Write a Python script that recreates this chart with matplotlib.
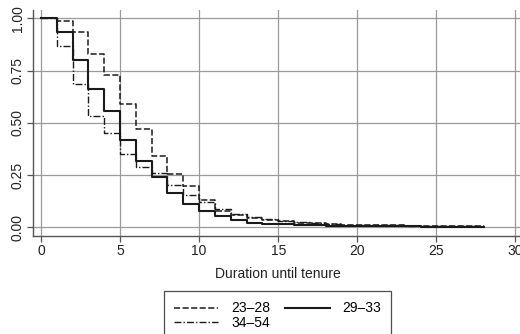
import matplotlib.pyplot as plt
import numpy as np

plt.rcParams['font.family'] = ['Liberation Sans', 'DejaVu Sans']

# Kaplan-Meier survival estimates by age group at hire (years 0..28)
years = np.arange(0, 29)
surv_23_28 = [1.000, 0.989, 0.933, 0.827, 0.728, 0.592, 0.469, 0.342, 0.255, 0.198,
              0.128, 0.078, 0.060, 0.046, 0.036, 0.028, 0.022, 0.018, 0.015, 0.012,
              0.010, 0.009, 0.008, 0.007, 0.006, 0.005, 0.004, 0.004, 0.004]
surv_29_33 = [1.000, 0.933, 0.803, 0.664, 0.557, 0.419, 0.317, 0.240, 0.163, 0.110,
              0.079, 0.055, 0.035, 0.022, 0.017, 0.013, 0.010, 0.008, 0.007, 0.006,
              0.005, 0.005, 0.004, 0.004, 0.003, 0.003, 0.003, 0.002, 0.002]
surv_34_54 = [1.000, 0.869, 0.685, 0.531, 0.451, 0.349, 0.288, 0.259, 0.203, 0.155,
              0.120, 0.086, 0.065, 0.048, 0.038, 0.030, 0.024, 0.019, 0.015, 0.012,
              0.010, 0.009, 0.008, 0.007, 0.006, 0.005, 0.004, 0.004, 0.004]

labels = ['23–28', '29–33', '34–54']
xticks = [0, 5, 10, 15, 20, 25, 30]
yticks = [0.0, 0.25, 0.50, 0.75, 1.00]

fig = plt.figure(figsize=(5.2, 3.34), dpi=100)
ax = fig.add_axes([0.0635, 0.293, 0.943, 0.677])

line_color = '#1a1a1a'
l1, = ax.step(years, surv_23_28, where='post', color=line_color, lw=1.1,
              linestyle=(0, (4, 1.6)), label=labels[0])
l2, = ax.step(years, surv_29_33, where='post', color=line_color, lw=1.5,
              linestyle='-', label=labels[1])
l3, = ax.step(years, surv_34_54, where='post', color=line_color, lw=1.0,
              linestyle=(0, (5, 1.5, 1, 1.5)), label=labels[2])

ax.set_xlim(-0.5, 30.5)
ax.set_ylim(-0.043, 1.04)
ax.set_xticks(xticks)
ax.set_yticks(yticks)
ax.set_yticklabels([f'{v:.2f}' for v in yticks], rotation=90, va='center')
ax.grid(True, color='#9a9a9a', lw=0.9)
ax.set_axisbelow(True)

for side in ['top', 'right']:
    ax.spines[side].set_visible(False)
for side in ['left', 'bottom']:
    ax.spines[side].set_color('#555555')
    ax.spines[side].set_linewidth(1.0)

ax.tick_params(axis='both', labelsize=10, colors='#555555', labelcolor='#222222',
               length=4, width=0.9)
ax.tick_params(axis='y', pad=2)
ax.tick_params(axis='x', pad=2)
ax.set_xlabel('Duration until tenure', fontsize=10, color='#222222', labelpad=6)

leg = fig.legend([l1, l3, l2], [labels[0], labels[2], labels[1]], ncol=2,
                 loc='upper center', bbox_to_anchor=(277.5 / 520, 1 - 291 / 334),
                 borderaxespad=0, fontsize=10, frameon=True, fancybox=False,
                 handlelength=3.2, columnspacing=1.1, handletextpad=0.9,
                 labelspacing=0.05, borderpad=0.75)
leg.get_frame().set_edgecolor('#222222')
leg.get_frame().set_linewidth(0.9)

plt.savefig('out.png', dpi=100)
